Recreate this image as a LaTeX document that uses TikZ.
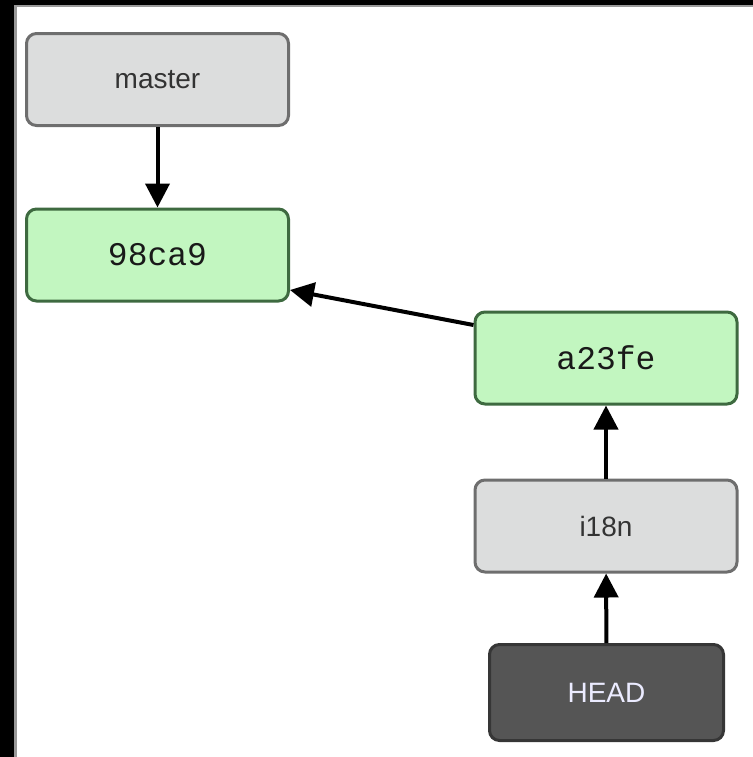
\documentclass[tikz,border=0pt]{standalone}
\usepackage{fontspec}
\newfontfamily\reffont{Liberation Sans}
\newfontfamily\hashfont{Liberation Mono}
\usepackage{tikz}
\usetikzlibrary{arrows.meta}
\usetikzlibrary{positioning}
\usepackage{xcolor}
\definecolor{refgray}{HTML}{DCDDDD}
\definecolor{refedge}{HTML}{6E6E6E}
\definecolor{commitgreen}{HTML}{C2F6C0}
\definecolor{commitedge}{HTML}{3E6A40}
\definecolor{headgray}{HTML}{555555}
\definecolor{headedge}{HTML}{363636}
\tikzstyle{branch}=[draw=refedge, fill=refgray, line width=1.5pt, rounded corners=5pt, minimum width=131pt, minimum height=46pt, text=black!80, font=\reffont\fontsize{14}{16}\selectfont]
\tikzstyle{commit}=[branch, draw=commitedge, fill=commitgreen, text=black!90, font=\hashfont\fontsize{16.5}{18}\selectfont]
\tikzstyle{headref}=[branch, draw=headedge, fill=headgray, minimum width=117pt, minimum height=48pt, text=white!92!blue, font=\reffont\fontsize{14}{16}\selectfont]
\tikzstyle{ptr}=[line width=2pt, -{Triangle[width=12pt,length=12pt]}]

\begin{document}
\begin{tikzpicture}[x=0.5pt,y=-0.5pt]
\useasboundingbox (0,0) rectangle (753,757);
% frame on top and left
\fill[black!40] (0,0) rectangle (17,757);
\fill[black!40] (0,0) rectangle (753,7);
\fill[black] (0,0) rectangle (14,757);
\fill[black] (0,0) rectangle (753,5);
% refs and commits
\node[branch] (master) at (157.5,79.5) {master};
\node[commit] (c98ca9) at (157.5,255) {98ca9};
\node[commit] (a23fe) at (606,358) {a23fe};
\node[branch] (i18n) at (606,526) {i18n};
\node[headref] (head) at (606.5,692.5) {HEAD};
% pointers
\draw[ptr] (master) -- (c98ca9);
\draw[ptr] ([yshift=16.5pt]a23fe.west) -- ([yshift=-17.5pt]c98ca9.east);
\draw[ptr] (i18n) -- (a23fe);
\draw[ptr] (head) -- (i18n);
\end{tikzpicture}
\end{document}
